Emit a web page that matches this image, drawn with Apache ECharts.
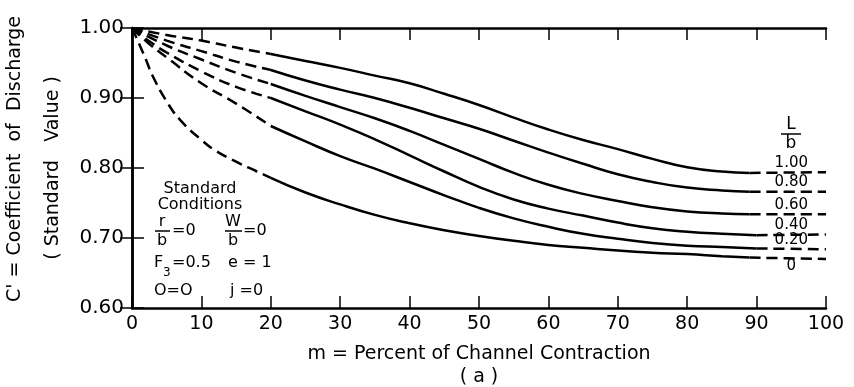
<!DOCTYPE html>
<html>
<head>
<meta charset="utf-8">
<script src="https://cdn.jsdelivr.net/npm/echarts@6/dist/echarts.min.js"></script>
<style>html,body{margin:0;padding:0;background:#fff}#main{width:854px;height:387px}</style>
</head>
<body>
<div id="main"></div>
<script>
// m (percent contraction) vs C' for each L/b value
var curveNames = ['1.00', '0.80', '0.60', '0.40', '0.20', '0'];
var c100 = [[0,1.000],[5,0.990],[10,0.982],[15,0.972],[20,0.963],[25,0.953],[30,0.943],[35,0.932],[40,0.921],[45,0.906],[50,0.890],[55,0.872],[60,0.855],[65,0.840],[70,0.827],[75,0.813],[80,0.801],[85,0.795],[89,0.793],[100,0.794]];
var c080 = [[0,1.000],[5,0.982],[10,0.967],[15,0.952],[20,0.940],[25,0.925],[30,0.912],[35,0.900],[40,0.886],[45,0.871],[50,0.856],[55,0.839],[60,0.822],[65,0.806],[70,0.791],[75,0.780],[80,0.772],[85,0.768],[89,0.766],[100,0.766]];
var c060 = [[0,1.000],[5,0.975],[10,0.955],[15,0.936],[20,0.920],[25,0.903],[30,0.887],[35,0.871],[40,0.853],[45,0.833],[50,0.813],[55,0.793],[60,0.776],[65,0.763],[70,0.753],[75,0.744],[80,0.738],[85,0.735],[89,0.734],[100,0.734]];
var c040 = [[0,1.000],[2.5,0.981],[5,0.965],[10,0.938],[15,0.916],[20,0.900],[25,0.881],[30,0.862],[35,0.841],[40,0.818],[45,0.795],[50,0.773],[55,0.755],[60,0.742],[65,0.732],[70,0.722],[75,0.714],[80,0.709],[85,0.706],[90,0.704],[100,0.705]];
var c020 = [[0,1.000],[2.5,0.977],[5,0.958],[10,0.921],[15,0.892],[20,0.860],[25,0.838],[30,0.817],[35,0.799],[40,0.780],[45,0.761],[50,0.743],[55,0.728],[60,0.716],[65,0.706],[70,0.699],[75,0.693],[80,0.689],[85,0.687],[90,0.685],[100,0.684]];
var c000 = [[0,1.000],[1,0.978],[2,0.955],[3,0.931],[5,0.895],[7,0.868],[10,0.840],[12,0.825],[15,0.809],[18,0.795],[20,0.786],[25,0.765],[30,0.748],[35,0.733],[40,0.721],[45,0.711],[50,0.703],[55,0.696],[60,0.690],[65,0.686],[70,0.682],[75,0.679],[80,0.677],[85,0.674],[89,0.672],[100,0.670]];
var curves = [c100, c080, c060, c040, c020, c000];
// where each curve turns from dashed to solid and back to dashed
var solidFrom = [20, 20, 20, 20, 20, 20];
var solidTo = [89, 89, 89, 90, 90, 89];
var labelAt = 95;

var font = 'DejaVu Sans';
var dash = [11, 6];

var myChart = echarts.init(document.getElementById('main'));

function seg(data, a, b) {
    return data.filter(function (p) { return p[0] >= a && p[0] <= b; });
}

var series = [];
curves.forEach(function (data, i) {
    var parts = [
        [seg(data, 0, solidFrom[i]), dash],
        [seg(data, solidFrom[i], solidTo[i]), 'solid'],
        [seg(data, solidTo[i], 100), dash]
    ];
    parts.forEach(function (p) {
        series.push({
            type: 'line',
            data: p[0],
            smooth: 0.5,
            symbol: 'none',
            silent: true,
            lineStyle: {color: '#000', width: 2.5, type: p[1]}
        });
    });
});

// curve labels at the right end
series.push({
    type: 'scatter',
    symbolSize: 0,
    silent: true,
    itemStyle: {opacity: 1, color: '#000'},
    data: curves.map(function (d, i) {
        var last = i === curves.length - 1;
        return {
            value: [labelAt, d[d.length - 1][1]],
            label: {
                show: true,
                formatter: curveNames[i],
                position: last ? 'bottom' : 'top',
                distance: last ? 0 : 2,
                fontFamily: font,
                fontSize: 15,
                color: '#000'
            }
        };
    })
});

function txt(x, y, s, size, align) {
    return {
        type: 'text', x: x, y: y,
        style: {text: s, fontFamily: font, fontSize: size || 16, fill: '#000',
                align: align || 'left', verticalAlign: 'middle'}
    };
}
function bar(x1, x2, y) {
    return {type: 'line', shape: {x1: x1, y1: y, x2: x2, y2: y}, style: {stroke: '#000', lineWidth: 1.5}};
}

var graphic = [
    // L/b heading
    txt(791, 125, 'L', 17, 'center'), bar(781, 801, 134), txt(791, 144, 'b', 17, 'center'),
    // standard conditions
    txt(200, 189, 'Standard', 16, 'center'),
    txt(200, 205, 'Conditions', 16, 'center'),
    txt(162, 222, 'r', 16, 'center'), bar(155, 170, 231), txt(162, 241, 'b', 16, 'center'),
    txt(172, 231, '=0', 16),
    txt(233, 222, 'W', 16, 'center'), bar(225, 242, 231), txt(233, 241, 'b', 16, 'center'),
    txt(243, 231, '=0', 16),
    txt(154, 263, 'F', 16), txt(163, 273, '3', 12), txt(172, 263, '=0.5', 16),
    txt(228, 263, 'e = 1', 16),
    txt(154, 291, 'O=O', 16),
    txt(230, 291, 'j =0', 16)
];

var option = {
    backgroundColor: '#fff',
    animation: false,
    grid: {left: 132, right: 28, top: 28, bottom: 79, outerBoundsMode: 'none', containLabel: false},
    xAxis: [{
        type: 'value', min: 0, max: 100, interval: 10,
        name: 'm = Percent of Channel Contraction\n( a )',
        nameLocation: 'middle', nameGap: 35, nameMoveOverlap: false,
        nameTextStyle: {fontFamily: font, fontSize: 19, color: '#000', lineHeight: 23},
        axisLine: {lineStyle: {color: '#000', width: 2.5}},
        axisTick: {inside: true, length: 12, lineStyle: {color: '#000', width: 1.5}},
        axisLabel: {fontFamily: font, fontSize: 19, color: '#000', margin: 7},
        splitLine: {show: false}
    }, {
        type: 'value', position: 'top', min: 0, max: 100, interval: 10,
        axisLine: {lineStyle: {color: '#000', width: 2.5}},
        axisTick: {inside: true, length: 12, lineStyle: {color: '#000', width: 1.5}},
        axisLabel: {show: false},
        splitLine: {show: false}
    }],
    yAxis: [{
        type: 'value', min: 0.6, max: 1.0, interval: 0.1,
        name: "   C' = Coefficient  of  Discharge\n( Standard   Value )",
        nameLocation: 'middle', nameGap: 60, nameRotate: 90, nameMoveOverlap: false,
        nameTextStyle: {fontFamily: font, fontSize: 19, color: '#000', lineHeight: 38},
        axisLine: {lineStyle: {color: '#000', width: 2.5}},
        axisTick: {inside: true, length: 12, lineStyle: {color: '#000', width: 1.5}},
        axisLabel: {fontFamily: font, fontSize: 20, color: '#000', margin: 8,
                    formatter: function (v) { return v.toFixed(2); }},
        splitLine: {show: false}
    }, {
        type: 'value', position: 'right', min: 0.6, max: 1.0, interval: 0.1,
        axisLine: {lineStyle: {color: '#000', width: 2.5}},
        axisTick: {inside: true, length: 12, lineStyle: {color: '#000', width: 1.5}},
        axisLabel: {show: false},
        splitLine: {show: false}
    }],
    graphic: graphic,
    series: series
};
myChart.setOption(option);
</script>
</body>
</html>
